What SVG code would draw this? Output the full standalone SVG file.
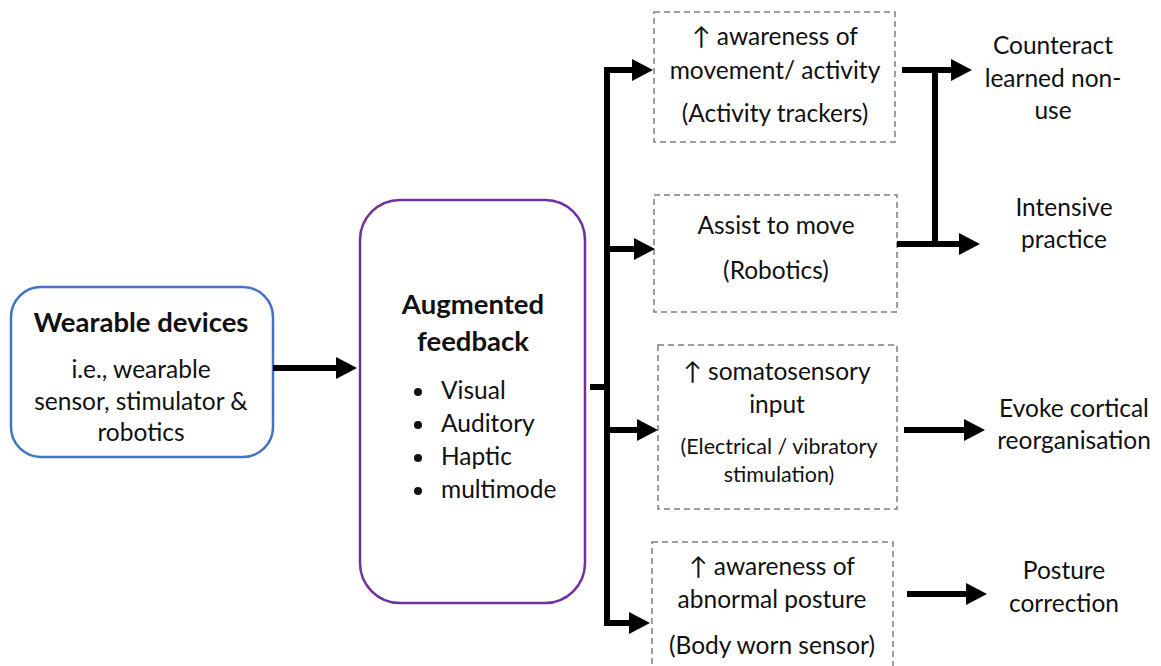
<svg xmlns="http://www.w3.org/2000/svg" width="1161" height="666" viewBox="0 0 1161 666">
<defs>
<marker id="ah" markerUnits="userSpaceOnUse" markerWidth="22" markerHeight="24" viewBox="0 -12 22 24" refX="0" refY="0" orient="auto" overflow="visible">
<path d="M0,-11 L21,0 L0,11 Z" fill="#000"/>
</marker>
<style>
text{font-family:Lato,"Open Sans","Liberation Sans",sans-serif;fill:#111;text-anchor:middle}
.b{font-weight:bold;font-size:27.5px}
.t{font-size:24.5px}
.s{font-size:21.5px}
.l{text-anchor:start}
.dash{fill:#fff;stroke:#7f7f7f;stroke-width:1.5;stroke-dasharray:6 4}
.c{stroke:#000;stroke-width:6;fill:none}
.ca{stroke:#000;stroke-width:6;fill:none;marker-end:url(#ah)}
</style>
</defs>
<rect width="1161" height="666" fill="#fff"/>

<g id="wearable">
<rect x="11" y="287" width="262" height="170" rx="30" fill="#fff" stroke="#4472C4" stroke-width="2.5"/>
<text class="b" x="141" y="332">Wearable devices</text>
<text class="t" x="141" y="378">i.e., wearable</text>
<text class="t" x="141" y="410">sensor, stimulator &amp;</text>
<text class="t" x="141" y="441">robotics</text>
</g>

<g id="augmented">
<rect x="360" y="200" width="225" height="403" rx="40" fill="#fff" stroke="#7030A0" stroke-width="2.5"/>
<text class="b" x="473" y="314">Augmented</text>
<text class="b" x="473" y="351">feedback</text>
<circle cx="418" cy="392" r="4" fill="#111"/>
<text class="t l" x="441" y="399">Visual</text>
<circle cx="418" cy="425" r="4" fill="#111"/>
<text class="t l" x="441" y="432">Auditory</text>
<circle cx="418" cy="458" r="4" fill="#111"/>
<text class="t l" x="441" y="465">Haptic</text>
<circle cx="418" cy="491" r="4" fill="#111"/>
<text class="t l" x="441" y="498">multimode</text>
</g>

<g id="awareness-movement">
<rect class="dash" x="654" y="12" width="241" height="130"/>
<text class="t" x="775" y="45">↑ awareness of</text>
<text class="t" x="775" y="79">movement/ activity</text>
<text class="t" x="775" y="122">(Activity trackers)</text>
</g>

<g id="assist">
<rect class="dash" x="654" y="195" width="243" height="117"/>
<text class="t" x="776" y="234">Assist to move</text>
<text class="t" x="776" y="279">(Robotics)</text>
</g>

<g id="somatosensory">
<rect class="dash" x="658" y="345" width="239" height="164"/>
<text class="t" x="777" y="380">↑ somatosensory</text>
<text class="t" x="777" y="413">input</text>
<text class="s" x="779" y="454">(Electrical / vibratory</text>
<text class="s" x="779" y="482">stimulation)</text>
</g>

<g id="awareness-posture">
<rect class="dash" x="652" y="542" width="241" height="140"/>
<text class="t" x="772" y="575">↑ awareness of</text>
<text class="t" x="772" y="608">abnormal posture</text>
<text class="t" x="772" y="654">(Body worn sensor)</text>
</g>

<g id="counteract">
<text class="t" x="1053" y="54">Counteract</text>
<text class="t" x="1053" y="87">learned non-</text>
<text class="t" x="1053" y="119">use</text>
</g>
<g id="intensive">
<text class="t" x="1064" y="216">Intensive</text>
<text class="t" x="1064" y="248">practice</text>
</g>
<g id="evoke">
<text class="t" x="1074" y="417">Evoke cortical</text>
<text class="t" x="1074" y="449">reorganisation</text>
</g>
<g id="posture">
<text class="t" x="1064" y="579">Posture</text>
<text class="t" x="1064" y="612">correction</text>
</g>

<g id="connectors">
<path class="ca" d="M273,368 L336,368"/>
<path class="c" d="M590,387 L607,387"/>
<path class="c" d="M607,67 L607,626"/>
<path class="ca" d="M604,70 L632,70"/>
<path class="ca" d="M604,249 L634,249"/>
<path class="ca" d="M607,430 L637,430"/>
<path class="ca" d="M604,623 L629,623"/>
<path class="ca" d="M902,70 L951,70"/>
<path class="ca" d="M897,244 L959,244"/>
<path class="c" d="M935,70 L935,244"/>
<path class="ca" d="M904,430 L964,430"/>
<path class="ca" d="M907,594 L966,594"/>
</g>
</svg>
